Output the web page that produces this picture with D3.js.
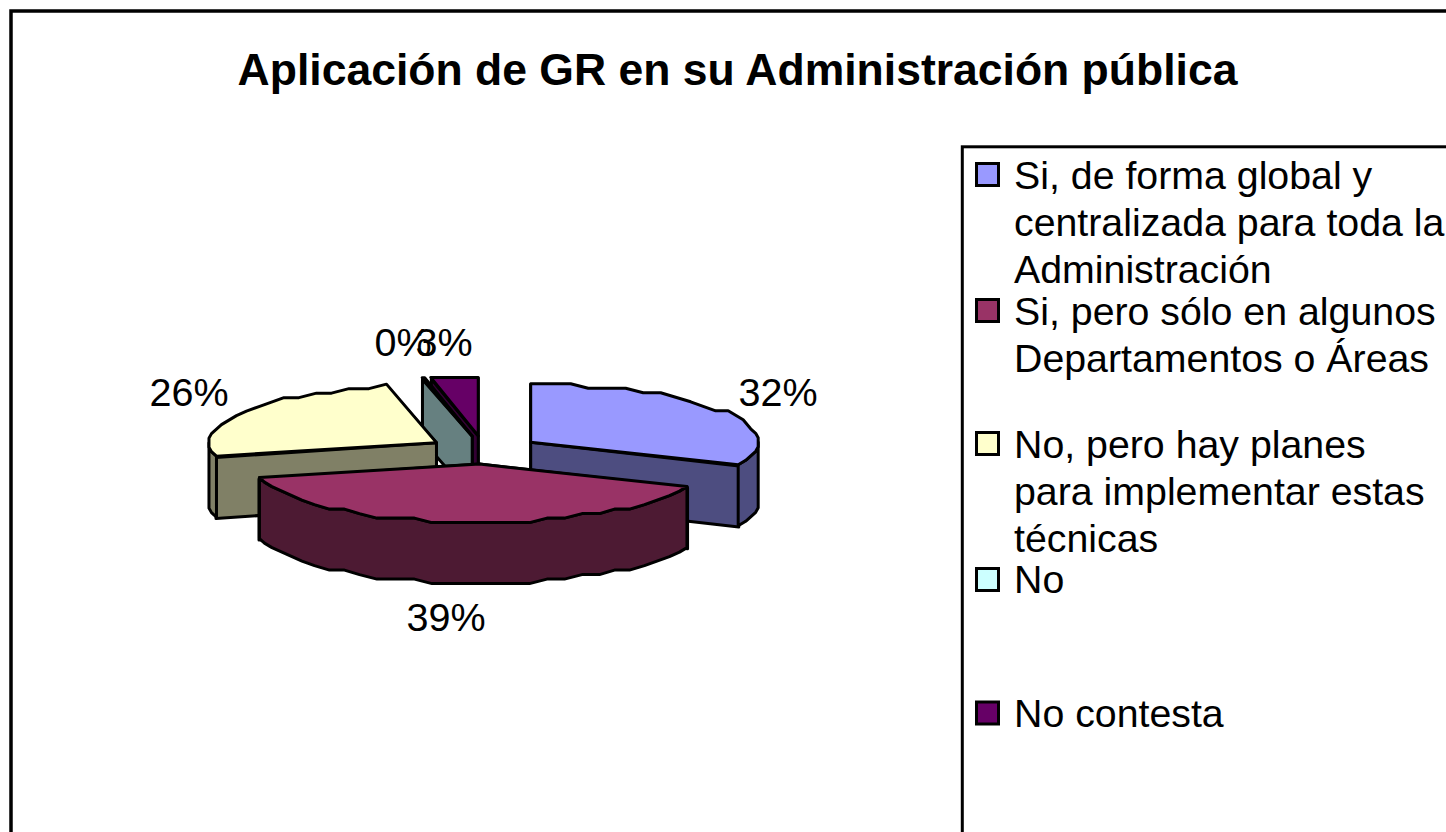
<!DOCTYPE html>
<html><head><meta charset="utf-8">
<script src="https://cdn.jsdelivr.net/npm/d3@7"></script>
<style>html,body{margin:0;padding:0;background:#fff;overflow:hidden}svg{display:block}text{font-family:"Liberation Sans",Arial,sans-serif;fill:#000}</style>
</head><body><svg id="c" width="1446" height="832"></svg>
<script>
const title = "Aplicación de GR en su Administración pública";
const categories = ["Si, de forma global y centralizada para toda la Administración","Si, pero sólo en algunos Departamentos o Áreas","No, pero hay planes para implementar estas técnicas","No","No contesta"];
const values = [31.7, 39.2, 25.6, 0.2, 3.3];
const topColors = ["#9999FF","#993366","#FFFFCC","#CCFFFF","#660066"];
const wallColors = ["#4D4D80","#4D1A33","#808066","#668080","#330033"];
const legendLines = [["Si, de forma global y","centralizada para toda la","Administración"],["Si, pero sólo en algunos","Departamentos o Áreas"],["No, pero hay planes","para implementar estas","técnicas"],["No"],["No contesta"]];
const legendBaselines = [189,325,458,593,727];
const swatchCenters = [174.5,310.5,443.5,579.5,713];

const W=1446,H=832,cx=484,cy=450,rx=228,ry=58,depth=61,explode=0.244,gridX=2.5,gridY=4.5;
const svg=d3.select("#c");
const fmt=d3.format(".0%");
const total=d3.sum(values);
svg.append("rect").attr("x",11).attr("y",11).attr("width",1480).attr("height",900).attr("fill","#fff").attr("stroke","#000").attr("stroke-width",3.5);
svg.append("text").attr("x",737.5).attr("y",85).attr("text-anchor","middle").attr("font-weight","bold").attr("font-size",44.5).text(title);

const arcs=d3.pie().value(d=>d).sort(null)(values);
const px=a=>rx*Math.sin(a), py=a=>-ry*Math.cos(a);
const line=d3.line();
function arcPts(a0,a1){
  const n=Math.max(1,Math.ceil(Math.abs(a1-a0)/(Math.PI/36)));
  return d3.range(n+1).map(i=>{
    const a=a0+(a1-a0)*i/n;
    return [Math.round(px(a)/gridX)*gridX, Math.round(py(a)/gridY)*gridY];
  });
}
const order=[4,3,2,0,1];
const g=svg.append("g").attr("stroke","#000").attr("stroke-width",3).attr("stroke-linejoin","round");
order.forEach(i=>{
  const d=arcs[i], mid=(d.startAngle+d.endAngle)/2;
  const ox=cx+explode*px(mid), oy=cy+explode*py(mid);
  const gs=g.append("g").attr("transform",`translate(${ox},${oy})`);
  const wall=wallColors[i];
  [d.startAngle,d.endAngle].sort((a,b)=>py(a)-py(b)).forEach(a=>{
    const p=[px(a),py(a)];
    gs.append("path").attr("fill",wall).attr("d",line([[0,0],p,[p[0],p[1]+depth],[0,depth]])+"Z");
  });
  const a0=Math.max(d.startAngle,Math.PI/2), a1=Math.min(d.endAngle,3*Math.PI/2);
  if(a1>a0){
    const t=arcPts(a0,a1), b=t.map(p=>[p[0],p[1]+depth]).reverse();
    gs.append("path").attr("fill",wall).attr("d",line(t.concat(b))+"Z");
  }
  gs.append("path").attr("fill",topColors[i]).attr("d",line([[0,0]].concat(arcPts(d.startAngle,d.endAngle)))+"Z");
});

const labelPos=[[778,406],[446,631],[189,406],[403,356],[444,356]];
arcs.forEach((d,i)=>{
  svg.append("text").attr("x",labelPos[i][0]).attr("y",labelPos[i][1]).attr("text-anchor","middle").attr("font-size",39.5).text(fmt(d.value/total));
});

svg.append("rect").attr("x",962.3).attr("y",146.8).attr("width",600).attr("height",800).attr("fill","#fff").attr("stroke","#000").attr("stroke-width",3);
categories.forEach((c,i)=>{
  svg.append("rect").attr("x",976.5).attr("y",swatchCenters[i]-11).attr("width",22).attr("height",22).attr("fill",topColors[i]).attr("stroke","#000").attr("stroke-width",3);
  legendLines[i].forEach((l,j)=>{
    svg.append("text").attr("x",1014).attr("y",legendBaselines[i]+j*47).attr("font-size",39.3).text(l);
  });
});
</script></body></html>
